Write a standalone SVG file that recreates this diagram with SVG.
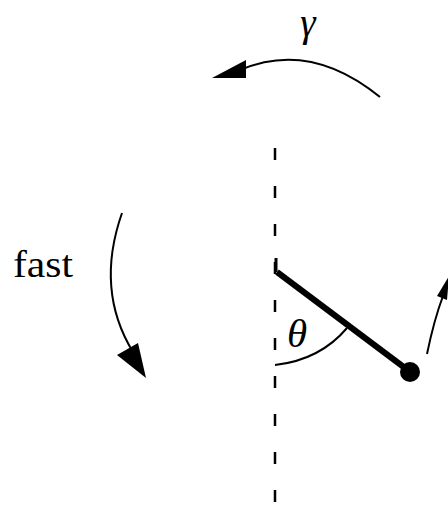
<svg xmlns="http://www.w3.org/2000/svg" width="448" height="506" viewBox="0 0 448 506">
<style>
.t{font-family:"Liberation Serif","Times New Roman",serif;fill:#000}
.ln{fill:none;stroke:#000;stroke-width:2}
</style>
<rect width="448" height="506" fill="#fff"/>
<g id="axis">
<line x1="275" y1="148" x2="275" y2="502" stroke="#000" stroke-width="2.5" stroke-dasharray="12 26"/>
</g>
<g id="pendulum">
<line x1="276" y1="258" x2="276" y2="272" stroke="#000" stroke-width="3"/>
<line x1="277" y1="272" x2="409" y2="371" stroke="#000" stroke-width="6"/>
<circle cx="410" cy="372" r="10" fill="#000"/>
</g>
<g id="connectors">
<path class="ln" d="M380,97 Q310,40 240,70"/>
<path d="M212,78 L246,60 L246,78 Z" fill="#000"/>
<path class="ln" d="M122,213 Q95,290 133,352"/>
<path d="M146,378 L117,355 L138,343 Z" fill="#000"/>
<path class="ln" d="M275,365 Q320,360 347,328"/>
<path class="ln" stroke-width="2.5" d="M427,354 Q434,320 443,296"/>
<path d="M449,276 L437,296 L447,300 Z" fill="#000"/>
</g>
<g id="labels">
<text class="t" x="308" y="36" font-size="39" font-style="italic" text-anchor="middle">γ</text>
<text class="t" x="13" y="277" font-size="37" textLength="60" lengthAdjust="spacingAndGlyphs">fast</text>
<text class="t" x="297" y="347" font-size="41" font-style="italic" text-anchor="middle">θ</text>
</g>
</svg>
